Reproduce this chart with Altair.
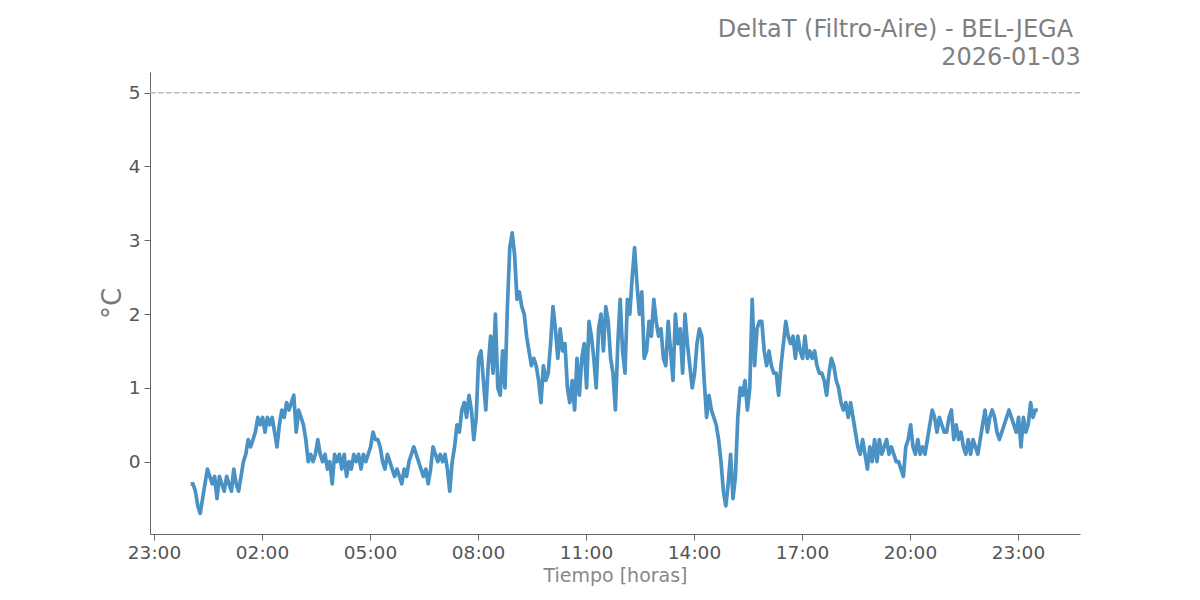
import altair as alt
import pandas as pd

# DeltaT values (°C), one reading every 4 minutes starting 2026-01-03 00:01 UTC
h00 = [-0.3, -0.3, -0.4, -0.6, -0.7, -0.5, -0.3, -0.1, -0.2, -0.3, -0.2, -0.5, -0.2, -0.3, -0.4]
h01 = [-0.2, -0.3, -0.4, -0.1, -0.3, -0.4, -0.2, 0.0, 0.1, 0.3, 0.2, 0.3, 0.4, 0.6, 0.5]
h02 = [0.6, 0.4, 0.6, 0.5, 0.6, 0.4, 0.2, 0.5, 0.7, 0.6, 0.8, 0.7, 0.8, 0.9, 0.4]
h03 = [0.7, 0.6, 0.5, 0.3, 0.0, 0.1, 0.0, 0.1, 0.3, 0.1, 0.0, 0.1, -0.1, 0.0, -0.3]
h04 = [0.1, 0.0, 0.1, -0.1, 0.1, -0.2, 0.0, -0.1, 0.1, 0.0, 0.1, -0.1, 0.1, 0.0, 0.1]
h05 = [0.2, 0.4, 0.3, 0.3, 0.2, 0.0, -0.1, 0.1, 0.0, -0.1, -0.2, -0.1, -0.2, -0.3, -0.1]
h06 = [-0.2, 0.0, 0.1, 0.2, 0.1, 0.0, -0.1, -0.2, -0.1, -0.3, -0.1, 0.2, 0.1, 0.0, 0.1]
h07 = [0.0, 0.1, -0.1, -0.4, 0.0, 0.2, 0.5, 0.4, 0.7, 0.8, 0.6, 0.9, 0.7, 0.3, 0.6]
h08 = [1.4, 1.5, 1.1, 0.7, 1.3, 1.7, 1.2, 2.0, 1.0, 0.9, 1.5, 1.0, 2.1, 2.9, 3.1]
h09 = [2.8, 2.2, 2.3, 2.1, 2.0, 1.7, 1.5, 1.3, 1.4, 1.3, 1.1, 0.8, 1.3, 1.1, 1.2]
h10 = [1.6, 2.1, 1.8, 1.4, 1.8, 1.5, 1.6, 1.0, 0.8, 1.1, 0.7, 1.4, 0.9, 1.4, 1.6]
h11 = [1.0, 1.9, 1.7, 1.4, 1.0, 1.8, 2.0, 1.5, 2.1, 1.9, 1.4, 1.2, 0.7, 1.6, 2.2]
h12 = [1.5, 1.2, 2.2, 2.0, 2.5, 2.9, 2.4, 2.0, 2.3, 1.4, 1.5, 1.9, 1.7, 2.2, 1.9]
h13 = [1.7, 1.8, 1.4, 1.3, 1.9, 1.5, 1.1, 2.0, 1.6, 1.8, 1.2, 2.0, 1.6, 1.3, 1.0]
h14 = [1.2, 1.6, 1.8, 1.7, 1.1, 0.6, 0.9, 0.7, 0.6, 0.5, 0.3, 0.0, -0.4, -0.6, -0.3]
h15 = [0.1, -0.5, -0.2, 0.6, 1.0, 0.9, 1.1, 0.7, 1.0, 2.2, 1.3, 1.8, 1.9, 1.9, 1.5]
h16 = [1.3, 1.5, 1.3, 1.2, 1.2, 0.9, 1.3, 1.6, 1.9, 1.7, 1.6, 1.7, 1.4, 1.7, 1.5]
h17 = [1.4, 1.7, 1.4, 1.5, 1.4, 1.5, 1.3, 1.2, 1.2, 1.1, 0.9, 1.2, 1.4, 1.3, 1.1]
h18 = [1.0, 0.8, 0.7, 0.8, 0.6, 0.8, 0.6, 0.4, 0.2, 0.1, 0.3, 0.1, -0.1, 0.2, 0.0]
h19 = [0.3, 0.0, 0.3, 0.1, 0.2, 0.3, 0.1, 0.2, 0.1, 0.0, 0.0, -0.1, -0.2, 0.2, 0.3]
h20 = [0.5, 0.2, 0.1, 0.3, 0.1, 0.2, 0.1, 0.3, 0.5, 0.7, 0.6, 0.4, 0.6, 0.5, 0.4]
h21 = [0.4, 0.6, 0.7, 0.3, 0.5, 0.3, 0.4, 0.2, 0.1, 0.3, 0.1, 0.3, 0.2, 0.1, 0.3]
h22 = [0.5, 0.7, 0.4, 0.6, 0.7, 0.6, 0.4, 0.3, 0.4, 0.5, 0.6, 0.7, 0.6, 0.5, 0.4]
h23 = [0.6, 0.2, 0.6, 0.4, 0.5, 0.8, 0.6, 0.7, 0.7]

values = (h00 + h01 + h02 + h03 + h04 + h05 + h06 + h07 + h08 + h09 + h10 + h11
          + h12 + h13 + h14 + h15 + h16 + h17 + h18 + h19 + h20 + h21 + h22 + h23)

times = pd.date_range(start="2026-01-03 00:01:00", periods=len(values), freq="4min")
df = pd.DataFrame({"t": times.strftime("%Y-%m-%dT%H:%M:%SZ"), "v": values})

threshold = 5
tick_hours = [(2, 23), (3, 2), (3, 5), (3, 8), (3, 11), (3, 14), (3, 17), (3, 20), (3, 23)]
tick_values = [alt.DateTime(year=2026, month=1, date=d, hours=h, minutes=0, utc=True) for d, h in tick_hours]
x_domain = [alt.DateTime(year=2026, month=1, date=2, hours=22, minutes=53, seconds=20, utc=True),
            alt.DateTime(year=2026, month=1, date=4, hours=0, minutes=43, seconds=20, utc=True)]

FONT = "DejaVu Sans"

line = alt.Chart(df).mark_line(color="#4A91C4", strokeWidth=3.7, strokeJoin="round", clip=True).encode(
    x=alt.X("t:T",
            scale=alt.Scale(type="utc", domain=x_domain),
            axis=alt.Axis(values=tick_values, format="%H:%M", title="Tiempo [horas]",
                          labelFontSize=18.5, titleFontSize=19, titleColor="#888888",
                          titleFontWeight="normal", labelColor="#555555", tickSize=6,
                          labelPadding=3, titlePadding=5, labelFlush=False)),
    y=alt.Y("v:Q",
            scale=alt.Scale(domain=[-0.98, 5.28], nice=False, zero=False),
            axis=alt.Axis(values=[0, 1, 2, 3, 4, 5], format="d", title="°C", labelFontSize=18.5,
                          titleFontSize=26, titleColor="#777777", titleFontWeight="normal",
                          labelColor="#555555", tickSize=6, labelPadding=4, titlePadding=3,
                          labelFlush=False)),
)

rule = alt.Chart(pd.DataFrame({"y": [threshold]})).mark_rule(
    color="#BBBBBB", strokeWidth=1.5, strokeDash=[5.5, 2.4]
).encode(y="y:Q")

chart = alt.layer(rule, line).properties(
    width=930,
    height=462,
    padding={"left": 142, "top": 64, "right": 104, "bottom": 58},
    autosize=alt.AutoSizeParams(type="none"),
    title=alt.TitleParams(
        text=["DeltaT (Filtro-Aire) - BEL-JEGA\u00a0\u200b", "2026-01-03"],
        anchor="end", align="right", fontSize=24, fontWeight="normal", color="#808080",
        font=FONT, lineHeight=28, offset=2,
    ),
).configure(font=FONT).configure_view(stroke=None).configure_axis(
    grid=False, domainColor="#666666", tickColor="#666666", labelFont=FONT, titleFont=FONT,
    domainWidth=1, tickWidth=1,
)

chart.save("out.html", embed_options={"renderer": "svg", "actions": False})
